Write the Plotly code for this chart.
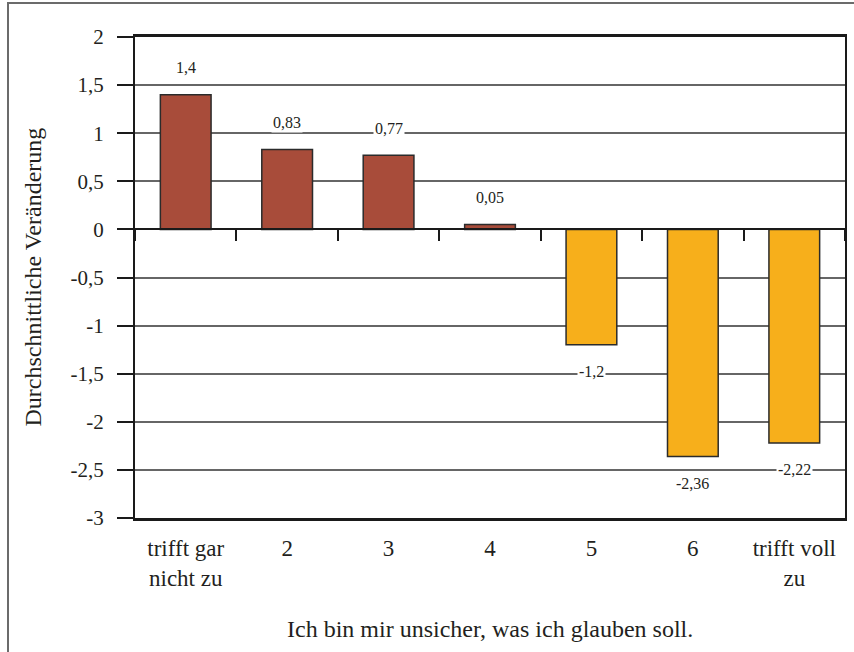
import plotly.graph_objects as go

categories = ["trifft gar<br>nicht zu", "2", "3", "4", "5", "6", "trifft voll<br>zu"]
values = [1.4, 0.83, 0.77, 0.05, -1.2, -2.36, -2.22]
y_tickvals = [2, 1.5, 1, 0.5, 0, -0.5, -1, -1.5, -2, -2.5, -3]
y_ticktext = ["2", "1,5", "1", "0,5", "0", "-0,5", "-1", "-1,5", "-2", "-2,5", "-3"]
x_title = "Ich bin mir unsicher, was ich glauben soll."
y_title = "Durchschnittliche Veränderung"

POS_COLOR = "#A84C3A"
NEG_COLOR = "#F7AF1B"
TEXT = "#231F20"
FONT = "'Liberation Serif', 'Times New Roman', serif"

W, H = 854, 652
ML, MR, MT, MB = 135, 9, 37, 134
PW, PH = W - ML - MR, H - MT - MB

colors = [POS_COLOR if v >= 0 else NEG_COLOR for v in values]

fig = go.Figure()
fig.add_trace(go.Bar(
    x=categories, y=values,
    marker=dict(color=colors, line=dict(color="#2b2b2b", width=1.5)),
    hoverinfo="skip", showlegend=False,
))
# invisible helper trace so the zero-line axis (x2) has categories
fig.add_trace(go.Scatter(
    x=categories, y=[0] * len(categories), xaxis="x2", yaxis="y",
    mode="markers", marker=dict(opacity=0), hoverinfo="skip", showlegend=False,
))

ymin, ymax = -3, 2
zero_pos = (0 - ymin) / (ymax - ymin)

for i, v in enumerate(values):
    fig.add_annotation(
        x=i, y=v, xref="x", yref="y",
        text=f"{v:g}".replace(".", ","),
        showarrow=False, yshift=27 if v >= 0 else -27,
        bgcolor="white", borderpad=1,
        font=dict(family=FONT, size=16, color=TEXT),
    )

fig.add_annotation(
    text=y_title, xref="paper", yref="paper",
    x=(32 - ML) / PW, y=0.5, xanchor="center", yanchor="middle",
    textangle=-90, showarrow=False,
    font=dict(family=FONT, size=24, color=TEXT),
)
fig.add_annotation(
    text=x_title, xref="paper", yref="paper",
    x=0.5, y=(PH + MT - 629) / PH, xanchor="center", yanchor="middle",
    showarrow=False,
    font=dict(family=FONT, size=24, color=TEXT),
)

# outer frame
fig.add_shape(
    type="rect", xref="paper", yref="paper",
    x0=(8 - ML) / PW, x1=1.1, y0=-0.5, y1=(PH + MT - 3) / PH,
    line=dict(color="#6b6b6b", width=2), layer="below",
)

fig.update_layout(
    width=W, height=H,
    margin=dict(l=ML, r=MR, t=MT, b=MB, autoexpand=False),
    paper_bgcolor="white", plot_bgcolor="white",
    bargap=0.5,
    separators=",.",
    font=dict(family=FONT, color=TEXT),
    xaxis=dict(
        type="category", range=[-0.5, 6.5],
        showline=True, linecolor="#1a1a1a", linewidth=2.5, mirror=True,
        ticks="", showgrid=False, zeroline=False,
        tickfont=dict(family=FONT, size=23, color=TEXT),
        ticklabelstandoff=8,
    ),
    xaxis2=dict(
        type="category", overlaying="x", matches="x", anchor="free",
        position=zero_pos, side="bottom",
        showline=True, linecolor="#1a1a1a", linewidth=2,
        ticks="outside", ticklen=11, tickwidth=1.5, tickcolor="#1a1a1a",
        tickson="boundaries", showticklabels=False, showgrid=False,
    ),
    yaxis=dict(
        range=[ymin, ymax], tickvals=y_tickvals, ticktext=y_ticktext,
        showline=True, linecolor="#1a1a1a", linewidth=2, mirror=True,
        ticks="outside", ticklen=16, tickwidth=2, tickcolor="#1a1a1a",
        showgrid=True, gridcolor="#666666", gridwidth=1.5,
        zeroline=False,
        tickfont=dict(family=FONT, size=21, color=TEXT),
        ticklabelstandoff=9,
    ),
)

fig.write_html(
    "out.html",
    config={"displayModeBar": False},
    post_script="document.body.style.margin='0';",
)
